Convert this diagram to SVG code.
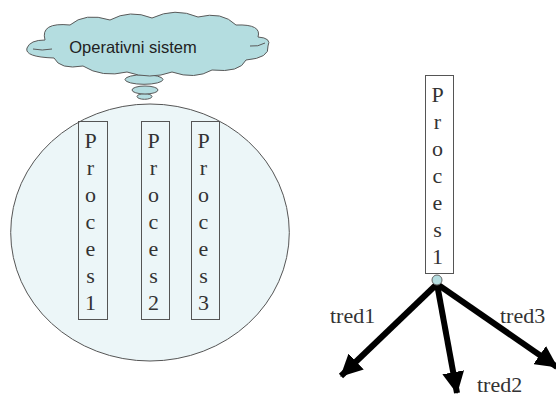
<svg xmlns="http://www.w3.org/2000/svg" width="556" height="399" viewBox="0 0 556 399">
<defs>
<style>
.cloud{fill:#b4dde0;stroke:#5a5a5a;stroke-width:1}
.box{fill:none;stroke:#555;stroke-width:1}
.lt{font-family:"Liberation Serif","DejaVu Serif",serif;font-size:22px;fill:#333;text-anchor:middle}
.lbl{font-family:"Liberation Serif","DejaVu Serif",serif;font-size:22px;fill:#333}
.arr{stroke:#000;stroke-width:6;fill:none;marker-end:url(#ah)}
</style>
<marker id="ah" viewBox="0 0 22 22" refX="21" refY="11" markerWidth="22" markerHeight="22" markerUnits="userSpaceOnUse" orient="auto">
<path d="M0,0 L22,11 L0,22 z" fill="#000"/>
</marker>
</defs>
<g id="circle">
<ellipse cx="150" cy="232.5" rx="139.3" ry="128.5" fill="#ecf6f8" stroke="#555" stroke-width="1"/>
</g>
<g id="cloud">
<ellipse class="cloud" cx="144.5" cy="96.5" rx="7.5" ry="2.8"/>
<ellipse class="cloud" cx="145" cy="90" rx="13" ry="4"/>
<ellipse class="cloud" cx="144" cy="79.5" rx="19" ry="4.8"/>
<path class="cloud" d="M45,40 Q40,22 70,25 Q85,12 110,20 Q130,9 152,18 Q175,7 198,17 Q222,11 236,25 Q262,24 258,37 Q272,38 268,46 Q270,58 246,60 Q240,73 212,70 Q195,80 172,72 Q150,80 127,72 Q102,78 83,66 Q60,70 54,58 Q24,57 27,48 Q30,40 45,40 Z"/>
<path d="M33,49 Q42,51 52,49 M250,46 Q258,47 265,43" fill="none" stroke="#5a5a5a" stroke-width="1"/>
<text x="133" y="53" font-family="'Liberation Sans','DejaVu Sans',sans-serif" font-size="16.5" fill="#222" text-anchor="middle">Operativni sistem</text>
</g>
<g id="proces1">
<rect class="box" x="78.5" y="121.5" width="29" height="198"/>
<text class="lt"><tspan x="90.5" y="148">P</tspan><tspan x="90.5" y="175">r</tspan><tspan x="90.5" y="202">o</tspan><tspan x="90.5" y="229">c</tspan><tspan x="90.5" y="256">e</tspan><tspan x="90.5" y="283">s</tspan><tspan x="90.5" y="310">1</tspan></text>
</g>
<g id="proces2">
<rect class="box" x="141.5" y="121.5" width="28" height="198"/>
<text class="lt"><tspan x="153.5" y="148">P</tspan><tspan x="153.5" y="175">r</tspan><tspan x="153.5" y="202">o</tspan><tspan x="153.5" y="229">c</tspan><tspan x="153.5" y="256">e</tspan><tspan x="153.5" y="283">s</tspan><tspan x="153.5" y="310">2</tspan></text>
</g>
<g id="proces3">
<rect class="box" x="191.5" y="121.5" width="28" height="198"/>
<text class="lt"><tspan x="203.5" y="148">P</tspan><tspan x="203.5" y="175">r</tspan><tspan x="203.5" y="202">o</tspan><tspan x="203.5" y="229">c</tspan><tspan x="203.5" y="256">e</tspan><tspan x="203.5" y="283">s</tspan><tspan x="203.5" y="310">3</tspan></text>
</g>
<g id="proces1-right">
<rect x="425.5" y="75.5" width="28" height="198" fill="#fff" stroke="#555" stroke-width="1"/>
<text class="lt"><tspan x="437.5" y="102">P</tspan><tspan x="437.5" y="129">r</tspan><tspan x="437.5" y="156">o</tspan><tspan x="437.5" y="183">c</tspan><tspan x="437.5" y="210">e</tspan><tspan x="437.5" y="237">s</tspan><tspan x="437.5" y="264">1</tspan></text>
</g>
<g id="connectors">
<path class="arr" d="M437,284 L341,376"/>
<path class="arr" d="M437,284 L457,393"/>
<path class="arr" d="M437,284 L557,367"/>
</g>
<g id="joint">
<circle cx="437" cy="280" r="5" fill="#b4dde0" stroke="#666" stroke-width="1"/>
</g>
<g id="labels">
<text class="lbl" x="330" y="323">tred1</text>
<text class="lbl" x="477" y="392">tred2</text>
<text class="lbl" x="500" y="323">tred3</text>
</g>
</svg>
